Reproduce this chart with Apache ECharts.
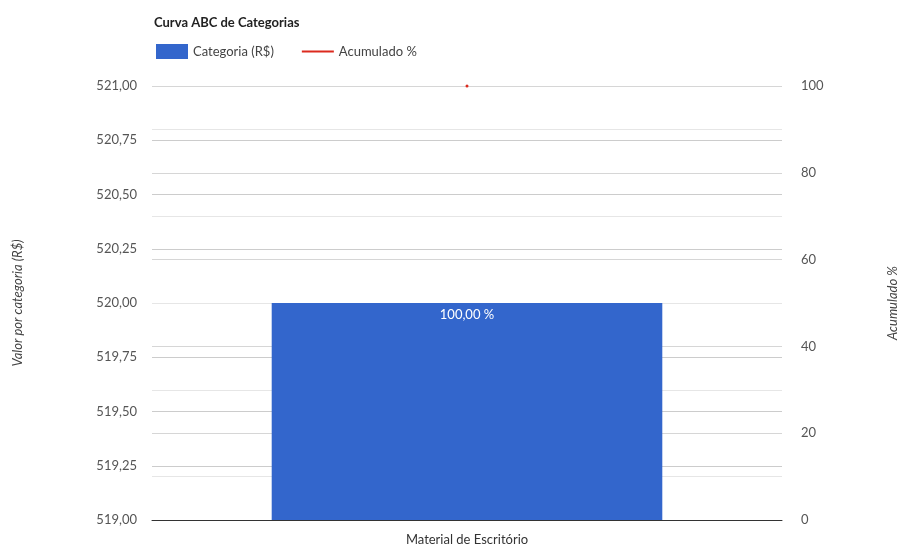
<!DOCTYPE html>
<html>
<head>
<meta charset="utf-8">
<script src="https://cdn.jsdelivr.net/npm/echarts@6/dist/echarts.min.js"></script>
<style>
  html, body { margin: 0; padding: 0; background: #fff; }
  #chart { width: 912px; height: 548px; }
</style>
</head>
<body>
<div id="chart"></div>
<script>
const categories = ['Material de Escritório']
const categoryValues = [520]
const accumulated = [100]

const leftMin = 519
const leftMax = 521
const leftStep = 0.25
const rightMin = 0
const rightMax = 100
const rightStep = 20

const fmtNum = (v, d) => v.toFixed(d).replace('.', ',')

const chart = echarts.init(document.getElementById('chart'))
chart.setOption({
  animation: false,
  textStyle: { fontFamily: 'Lato' },
  title: {
    text: 'Curva ABC de Categorias',
    left: 149,
    top: 11,
    textStyle: { fontSize: 13, fontWeight: 'bold', color: '#222', fontFamily: 'Lato' }
  },
  legend: {
    left: 151,
    top: 39,
    itemWidth: 32,
    itemHeight: 15,
    itemGap: 28,
    textStyle: { fontSize: 13, color: '#444' },
    data: [
      { name: 'Categoria (R$)', icon: 'rect' },
      { name: 'Acumulado %', icon: 'path://M0,0 L32,0 L32,2 L0,2 Z' }
    ]
  },
  grid: { left: 152, right: 130, top: 86, bottom: 28 },
  xAxis: {
    type: 'category',
    data: categories,
    axisTick: { show: false },
    axisLine: { lineStyle: { color: '#333', width: 1 } },
    axisLabel: { color: '#333', fontSize: 13, margin: 13 }
  },
  yAxis: [
    {
      type: 'value',
      min: leftMin,
      max: leftMax,
      interval: leftStep,
      name: 'Valor por categoria (R$)',
      nameLocation: 'middle',
      nameGap: 128,
      nameTextStyle: { fontStyle: 'italic', color: '#444', fontSize: 13 },
      axisLine: { show: false },
      axisTick: { show: false },
      axisLabel: { color: '#555', fontSize: 13, margin: 15, formatter: (v) => fmtNum(v, 2) },
      splitLine: { lineStyle: { color: '#ccc' } }
    },
    {
      type: 'value',
      min: rightMin,
      max: rightMax,
      interval: rightStep,
      name: 'Acumulado %',
      nameLocation: 'middle',
      nameGap: 104,
      nameRotate: 90,
      nameTextStyle: { fontStyle: 'italic', color: '#444', fontSize: 13 },
      axisLine: { show: false },
      axisTick: { show: false },
      axisLabel: { color: '#555', fontSize: 13, margin: 19 },
      splitLine: { lineStyle: { color: '#d6d6d6' } },
      minorTick: { show: false, splitNumber: 2 },
      minorSplitLine: { show: true, lineStyle: { color: '#e6e6e6' } }
    }
  ],
  series: [
    {
      name: 'Categoria (R$)',
      type: 'bar',
      yAxisIndex: 0,
      data: categoryValues,
      barCategoryGap: '38%',
      itemStyle: { color: '#3366cc' },
      label: {
        show: true,
        position: 'insideTop',
        distance: 5,
        color: '#fff',
        fontSize: 13,
        formatter: (p) => fmtNum(accumulated[p.dataIndex], 2) + ' %'
      }
    },
    {
      name: 'Acumulado %',
      type: 'line',
      yAxisIndex: 1,
      data: accumulated,
      symbol: 'circle',
      symbolSize: 3,
      lineStyle: { color: '#dc2a1e', width: 2 },
      itemStyle: { color: '#dc2a1e' }
    }
  ]
})
</script>
</body>
</html>
